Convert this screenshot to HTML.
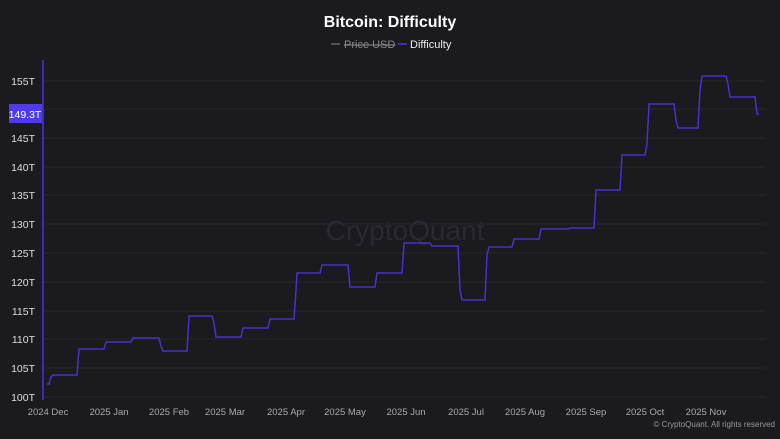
<!DOCTYPE html><html><head><style>body{margin:0;background:#1b1a1f;}svg{display:block;font-family:"Liberation Sans",sans-serif}</style></head><body>
<svg width="780" height="439" xmlns="http://www.w3.org/2000/svg">
<rect width="780" height="439" fill="#1b1a1f"/>
<text x="390" y="27" text-anchor="middle" fill="#fff" font-size="16" font-weight="bold">Bitcoin: Difficulty</text>
<line x1="331" y1="44" x2="340" y2="44" stroke="#888" stroke-width="1"/>
<text x="344" y="48" fill="#888" font-size="11" text-decoration="line-through">Price USD</text>
<line x1="398" y1="44" x2="407" y2="44" stroke="#4a3ad8" stroke-width="1.5"/>
<text x="410" y="48" fill="#eee" font-size="11">Difficulty</text>
<text x="405" y="240" text-anchor="middle" fill="#2a292f" font-size="28">CryptoQuant</text>
<g stroke="#26252b" stroke-width="1">
<line x1="44" x2="765" y1="81" y2="81"/><line x1="44" x2="765" y1="109" y2="109"/><line x1="44" x2="765" y1="138" y2="138"/><line x1="44" x2="765" y1="167" y2="167"/><line x1="44" x2="765" y1="195" y2="195"/><line x1="44" x2="765" y1="224" y2="224"/><line x1="44" x2="765" y1="253" y2="253"/><line x1="44" x2="765" y1="282" y2="282"/><line x1="44" x2="765" y1="311" y2="311"/><line x1="44" x2="765" y1="339" y2="339"/><line x1="44" x2="765" y1="368" y2="368"/><line x1="44" x2="765" y1="397" y2="397"/>
</g>
<line x1="43" y1="60" x2="43" y2="400" stroke="#3b2fa8" stroke-width="2"/>
<g fill="#ddd" font-size="10.5" text-anchor="end">
<text x="35" y="85">155T</text><text x="35" y="142">145T</text><text x="35" y="171">140T</text><text x="35" y="199">135T</text><text x="35" y="228">130T</text><text x="35" y="257">125T</text><text x="35" y="286">120T</text><text x="35" y="315">115T</text><text x="35" y="343">110T</text><text x="35" y="372">105T</text><text x="35" y="401">100T</text>
</g>
<rect x="9" y="104" width="33" height="19" fill="#4f3af0"/>
<text x="25" y="118" text-anchor="middle" fill="#fff" font-size="10.5">149.3T</text>
<g fill="#aaa" font-size="9.5" text-anchor="middle">
<text x="48" y="415">2024 Dec</text><text x="109" y="415">2025 Jan</text><text x="169" y="415">2025 Feb</text><text x="225" y="415">2025 Mar</text><text x="286" y="415">2025 Apr</text><text x="345" y="415">2025 May</text><text x="406" y="415">2025 Jun</text><text x="466" y="415">2025 Jul</text><text x="525" y="415">2025 Aug</text><text x="586" y="415">2025 Sep</text><text x="645" y="415">2025 Oct</text><text x="706" y="415">2025 Nov</text>
</g>
<polyline fill="none" stroke="#4433cc" stroke-width="1.5" points="47,384 49,384 51,377 53,375 77,375 79,349 104,349 106,342 131,342 133,338 159,338 161,346 163,351 187,351 189,316 212,316 214,323 216,337 241,337 243,328 268,328 270,319 294,319 296,290 297,273 320,273 322,265 348,265 350,287 375,287 377,273 402,273 404,243 430,243 432,246 458,246 460,290 462,300 485,300 487,255 489,247 512,247 514,239 539,239 541,229 568,229 570,228 594,228 596,190 620,190 622,155 645,155 647,144 649,104 674,104 676,120 678,128 698,128 700,90 702,76 726,76 728,84 730,97 755,97 757,114 759,114"/>
<text x="775" y="427" text-anchor="end" fill="#999" font-size="8">© CryptoQuant. All rights reserved</text>
</svg></body></html>
